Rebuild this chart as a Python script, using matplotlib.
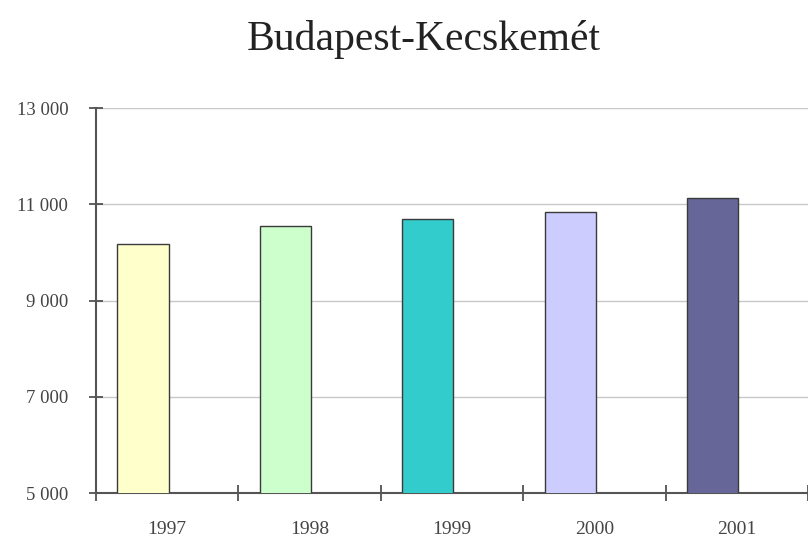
import numpy as np
import matplotlib.pyplot as plt
from matplotlib.ticker import FuncFormatter

# utasszam evente a Budapest-Kecskemet viszonylaton
years = ['1997', '1998', '1999', '2000', '2001']
values = [10170, 10550, 10700, 10830, 11120]
colors = ['#FFFFCC', '#CCFFCC', '#33CCCC', '#CCCCFF', '#666699']
yticks = [5000, 7000, 9000, 11000, 13000]

plt.rcParams['font.family'] = ['Liberation Serif', 'DejaVu Serif']

fig = plt.figure(figsize=(8.08, 5.40), dpi=100)
ax = fig.add_axes([0.1188, 0.087, 0.8812, 0.713])

x = np.arange(len(years))
ax.bar(x - 0.17, values, width=0.36, color=colors, edgecolor='#3a3a3a',
       linewidth=1.0, zorder=3)

ax.set_ylim(5000, 13000)
ax.set_xlim(-0.5, 4.48)
ax.set_yticks(yticks)
ax.yaxis.set_major_formatter(FuncFormatter(lambda v, p: f'{int(v):,}'.replace(',', ' ')))
ax.grid(axis='y', color='#c8c8c8', linewidth=1.0, zorder=0)

# kategoria hatarok mint fo osztasok, evszamok a kozepukon
ax.set_xticks(np.arange(-0.5, 4.6, 1.0))
ax.set_xticklabels([])
ax.set_xticks(x, minor=True)
ax.set_xticklabels(years, minor=True)
ax.tick_params(axis='x', which='minor', length=0, pad=20, labelsize=14, colors='#444444')
ax.tick_params(axis='x', which='major', direction='inout', length=12, width=1.2, color='#444444')
ax.tick_params(axis='y', direction='inout', length=10, width=1.2, color='#444444',
               labelsize=13.5, labelcolor='#444444', pad=15)

for s in ['top', 'right']:
    ax.spines[s].set_visible(False)
for s in ['left', 'bottom']:
    ax.spines[s].set_color('#555555')
    ax.spines[s].set_linewidth(1.5)

fig.text(0.524, 0.907, 'Budapest-Kecskemét', ha='center', va='baseline',
         fontsize=30, color='#222222')

fig.savefig('out.png', dpi=100)
